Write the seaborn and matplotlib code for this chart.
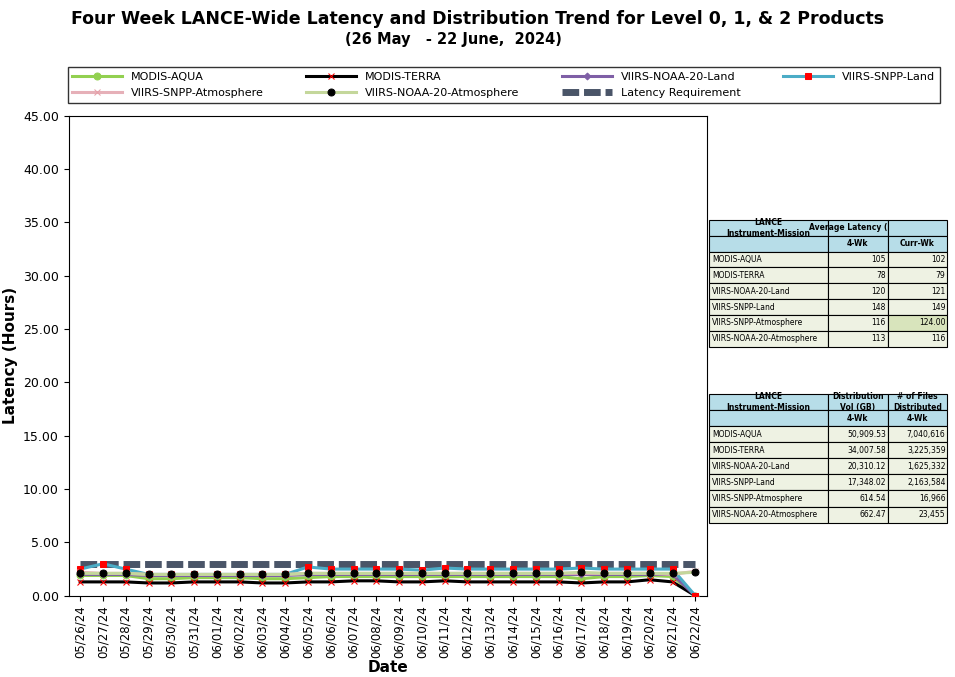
import matplotlib
matplotlib.use("Agg")
import matplotlib.pyplot as plt
import seaborn as sns
import numpy as np

dates = ["05/26/24","05/27/24","05/28/24","05/29/24","05/30/24","05/31/24","06/01/24","06/02/24","06/03/24","06/04/24",
         "06/05/24","06/06/24","06/07/24","06/08/24","06/09/24","06/10/24","06/11/24","06/12/24","06/13/24","06/14/24",
         "06/15/24","06/16/24","06/17/24","06/18/24","06/19/24","06/20/24","06/21/24","06/22/24"]
modis_aqua = [1.9,1.9,1.9,1.6,1.6,1.7,1.7,1.7,1.6,1.6,1.7,1.8,1.8,1.8,1.8,1.8,1.8,1.8,1.8,1.8,1.8,1.8,1.6,1.8,1.8,1.9,1.8,0.0]
modis_terra = [1.3,1.3,1.3,1.2,1.2,1.3,1.3,1.3,1.2,1.2,1.3,1.3,1.4,1.4,1.3,1.3,1.4,1.3,1.3,1.3,1.3,1.3,1.2,1.3,1.3,1.5,1.3,0.0]
noaa20_land = [2.0,2.0,2.0,1.9,1.9,1.9,1.9,1.9,1.9,1.9,2.0,2.0,2.0,2.0,2.0,2.0,2.0,2.0,2.0,2.0,2.0,2.0,2.0,2.0,2.0,2.0,2.0,0.0]
snpp_land = [2.5,3.0,2.5,2.0,2.0,2.0,2.0,2.0,2.0,2.0,2.7,2.5,2.5,2.5,2.5,2.4,2.6,2.5,2.5,2.5,2.5,2.5,2.6,2.5,2.5,2.5,2.5,0.0]
snpp_atm = [2.2,2.1,2.1,2.0,2.0,2.0,2.0,2.0,2.0,2.0,2.1,2.1,2.1,2.1,2.1,2.1,2.1,2.1,2.1,2.1,2.1,2.1,2.1,2.1,2.1,2.1,2.0,2.3]
noaa20_atm = [2.1,2.1,2.1,2.0,2.0,2.0,2.0,2.0,2.0,2.0,2.1,2.1,2.1,2.1,2.1,2.1,2.1,2.1,2.1,2.1,2.1,2.1,2.2,2.1,2.1,2.1,2.1,2.2]
requirement = [3.0]*28

series = [
    ("MODIS-AQUA", modis_aqua, "#92d050", "o", "#92d050"),
    ("MODIS-TERRA", modis_terra, "black", "x", "red"),
    ("VIIRS-NOAA-20-Land", noaa20_land, "#7f5fa6", "D", "#7f5fa6"),
    ("VIIRS-SNPP-Land", snpp_land, "#4bacc6", "s", "red"),
    ("VIIRS-SNPP-Atmosphere", snpp_atm, "#e6b0b8", "x", "#e6a0a8"),
    ("VIIRS-NOAA-20-Atmosphere", noaa20_atm, "#c4d79b", "o", "black"),
]

lat_rows = [["MODIS-AQUA","105","102"],["MODIS-TERRA","78","79"],["VIIRS-NOAA-20-Land","120","121"],
            ["VIIRS-SNPP-Land","148","149"],["VIIRS-SNPP-Atmosphere","116","124.00"],["VIIRS-NOAA-20-Atmosphere","113","116"]]
dist_rows = [["MODIS-AQUA","50,909.53","7,040,616"],["MODIS-TERRA","34,007.58","3,225,359"],
             ["VIIRS-NOAA-20-Land","20,310.12","1,625,332"],["VIIRS-SNPP-Land","17,348.02","2,163,584"],
             ["VIIRS-SNPP-Atmosphere","614.54","16,966"],["VIIRS-NOAA-20-Atmosphere","662.47","23,455"]]

fig = plt.figure(figsize=(9.55, 6.77), dpi=100)
ax = fig.add_axes([0.072, 0.12, 0.668, 0.709])
x = np.arange(len(dates))
sns.lineplot(x=x, y=requirement, ax=ax, color="#4a5568", lw=5, ls=(0, (2.4, 0.7)), label="Latency Requirement", zorder=1)
for name, vals, col, mk, mc in series:
    sns.lineplot(x=x, y=vals, ax=ax, color=col, lw=2.2, marker=mk, markersize=5 if mk != "D" else 3.5,
                 markerfacecolor=mc, markeredgecolor=mc, label=name, zorder=3)
handles, labels = ax.get_legend_handles_labels()
h = dict(zip(labels, handles))
order = ["MODIS-AQUA", "VIIRS-SNPP-Atmosphere", "MODIS-TERRA", "VIIRS-NOAA-20-Atmosphere",
         "VIIRS-NOAA-20-Land", "Latency Requirement", "VIIRS-SNPP-Land"]
ax.get_legend().remove()
fig.legend([h[k] for k in order], order, loc="lower left",
           bbox_to_anchor=(0.065, 0.84, 0.925, 0.078), mode="expand", ncol=4, frameon=True, fancybox=False,
           edgecolor="black", fontsize=8, handlelength=4.5, borderpad=0.4, labelspacing=0.6)
ax.set_ylim(0, 45)
ax.set_yticks(np.arange(0, 46, 5))
ax.set_yticklabels([f"{v:.2f}" for v in np.arange(0, 46, 5)], fontsize=9)
ax.set_xlim(-0.5, len(dates) - 0.5)
ax.set_xticks(x)
ax.set_xticklabels(dates, rotation=90, fontsize=8.5)
ax.set_xlabel("Date", fontsize=11, fontweight="bold", labelpad=1)
ax.set_ylabel("Latency (Hours)", fontsize=11, fontweight="bold")
for s in ax.spines.values():
    s.set_color("black")
fig.text(0.5, 0.965, "Four Week LANCE-Wide Latency and Distribution Trend for Level 0, 1, & 2 Products",
         ha="center", fontsize=12.5, fontweight="bold")
fig.text(0.475, 0.935, "(26 May   - 22 June,  2024)", ha="center", fontsize=10.5, fontweight="bold")

def make_table(rect, head1, rows, highlight=None):
    tax = fig.add_axes(rect)
    tax.axis("off")
    cells = [head1[:3], ["", "4-Wk", head1[3]]] + rows
    t = tax.table(cellText=cells, loc="upper left", bbox=[0, 0, 1, 1], colWidths=[0.5, 0.25, 0.25])
    t.auto_set_font_size(False)
    for (r, c), cell in t.get_celld().items():
        cell.set_fontsize(5.5)
        cell.set_linewidth(0.8)
        cell.PAD = 0.03
        if r <= 1:
            cell.set_facecolor("#b7dde8")
            cell.get_text().set_fontweight("bold")
            cell.get_text().set_ha("center")
        else:
            cell.set_facecolor("#eef2e3")
            cell.get_text().set_ha("left" if c == 0 else "right")
        if highlight and (r, c) == highlight:
            cell.set_facecolor("#d8e4bc")
    return t

make_table([0.742, 0.488, 0.25, 0.187], ["LANCE\nInstrument-Mission", "Average Latency (Min)", "", "Curr-Wk"], lat_rows, (6, 2))
make_table([0.742, 0.228, 0.25, 0.19], ["LANCE\nInstrument-Mission", "Distribution\nVol (GB)", "# of Files\nDistributed", "4-Wk"], dist_rows)
fig.savefig("out.png", dpi=100)
